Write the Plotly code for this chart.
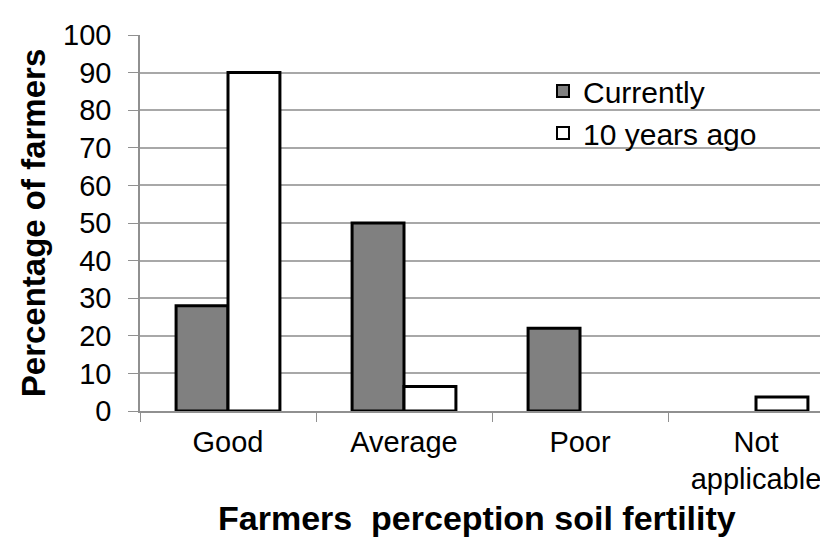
import plotly.graph_objects as go

categories = ["Good", "Average", "Poor", "Not<br>applicable"]
currently = [28, 50, 22, 0]
ten_years_ago = [90, 6.5, 0, 3.7]
y_ticks = [0, 10, 20, 30, 40, 50, 60, 70, 80, 90, 100]

FONT = "Liberation Sans, Arial, sans-serif"
W, H = 828, 540
L, R, T, B = 132, 0, 27, 137
PW, PH = W - L - R, H - T - B

def px_x(x):
    return (x - L) / PW

def px_y(y):
    return (H - B - y) / PH

fig = go.Figure()
fig.add_trace(go.Bar(x=categories, y=currently, name="Currently",
                     marker=dict(color="#808080",
                                 line=dict(color="black", width=[3 if v > 0 else 0 for v in currently]))))
fig.add_trace(go.Bar(x=categories, y=ten_years_ago, name="10 years ago",
                     marker=dict(color="white",
                                 line=dict(color="black", width=[3 if v > 0 else 0 for v in ten_years_ago]))))

fig.update_layout(
    width=W, height=H,
    margin=dict(l=L, r=R, t=T, b=B, autoexpand=False),
    paper_bgcolor="white", plot_bgcolor="white",
    barmode="group", bargap=0.41, bargroupgap=0,
    font=dict(family=FONT, color="black", size=30),
    showlegend=True,
    legend=dict(x=px_x(535), y=px_y(57), xanchor="left", yanchor="top",
                bgcolor="rgba(0,0,0,0)", font=dict(size=30), tracegroupgap=0,
                itemsizing="constant"),
    xaxis=dict(type="category", range=[-0.5, 3.4545], showgrid=False, automargin=False,
               showline=True, linecolor="#909090", linewidth=1.5,
               ticks="outside", tickson="boundaries", ticklen=9, tickcolor="#909090",
               tickfont=dict(size=29), ticklabelstandoff=4),
    yaxis=dict(range=[0, 100], tickvals=y_ticks, showgrid=True, gridcolor="#a8a8a8",
               gridwidth=1.5, showline=True, linecolor="#909090", linewidth=1.5,
               ticks="outside", ticklen=10, tickcolor="#909090", automargin=False,
               tickfont=dict(size=29), zeroline=False, ticklabelstandoff=11,
               title=dict(text="<b>Percentage of farmers</b>", font=dict(size=33), standoff=8)),
    annotations=[dict(text="<b>Farmers  perception soil fertility</b>",
                      x=px_x(469), y=px_y(531), xref="paper", yref="paper",
                      xanchor="center", yanchor="bottom", showarrow=False,
                      font=dict(size=34))],
)
fig.write_html("out.html")
